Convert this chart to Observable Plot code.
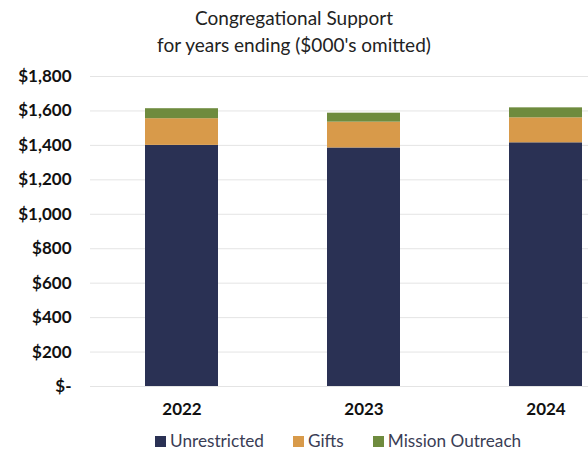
<!DOCTYPE html>
<html><head><meta charset="utf-8">
<script src="https://cdn.jsdelivr.net/npm/d3@7"></script>
<script src="https://cdn.jsdelivr.net/npm/@observablehq/plot@0.6"></script>
<style>
body{margin:0;background:#fff;font-family:Lato,"Open Sans",sans-serif;}
#wrap{width:588px;height:451px;position:relative;overflow:hidden;}
#title{position:absolute;top:4px;left:0;width:588px;text-align:center;font-size:19px;line-height:27px;color:#222;}
#chart{position:absolute;top:62px;left:0;}
#legend{position:absolute;top:430px;left:155px;display:flex;gap:29px;font-size:17.2px;line-height:22px;color:#3a3d55;white-space:nowrap;}
#legend span.sw{display:inline-block;width:11px;height:11px;margin-right:4px;vertical-align:0px;}
</style></head>
<body><div id="wrap">
<div id="title">Congregational Support<br>for years ending ($000's omitted)</div>
<div id="chart"></div>
<div id="legend"></div>
</div>
<script>
const years = ["2022", "2023", "2024"];
const seriesNames = ["Unrestricted", "Gifts", "Mission Outreach"];
const unrestricted = [1400, 1385, 1415];
const gifts = [155, 150, 145];
const missionOutreach = [58, 52, 58];
const colors = ["#2a3154", "#d89a4a", "#6e8b3e"];
const yTicks = [0, 200, 400, 600, 800, 1000, 1200, 1400, 1600, 1800];

const seriesValues = [unrestricted, gifts, missionOutreach];
const data = [];
years.forEach((y, i) => seriesNames.forEach((s, j) => data.push({year: y, series: s, value: seriesValues[j][i]})));

const fmt = v => v === 0 ? "$-" : "$" + d3.format(",")(v);

const chart = Plot.plot({
  width: 588,
  height: 364,
  marginLeft: 90,
  marginRight: 0,
  marginTop: 14,
  marginBottom: 40,
  style: {fontFamily: "Lato, 'Open Sans', sans-serif", background: "transparent"},
  x: {domain: years, range: [90, 636], paddingInner: 0.6, paddingOuter: 0.3, label: null},
  y: {domain: [0, 1800], ticks: yTicks, label: null},
  color: {domain: seriesNames, range: colors},
  marks: [
    Plot.gridY(yTicks, {stroke: "#e4e4e4", strokeOpacity: 1}),
    Plot.barY(data, Plot.stackY({x: "year", y: "value", fill: "series", order: seriesNames})),
    Plot.axisY(yTicks, {tickSize: 0, tickPadding: 19, tickFormat: fmt, fontSize: 17, fontWeight: "bold", fill: "#111"}),
    Plot.axisX({tickSize: 0, tickPadding: 16, fontSize: 17, fontWeight: "bold", fill: "#111", label: null})
  ]
});
document.getElementById("chart").appendChild(chart);

const leg = document.getElementById("legend");
seriesNames.forEach((s, i) => {
  const d = document.createElement("div");
  d.innerHTML = `<span class="sw" style="background:${colors[i]}"></span>${s}`;
  leg.appendChild(d);
});
</script>
</body></html>
